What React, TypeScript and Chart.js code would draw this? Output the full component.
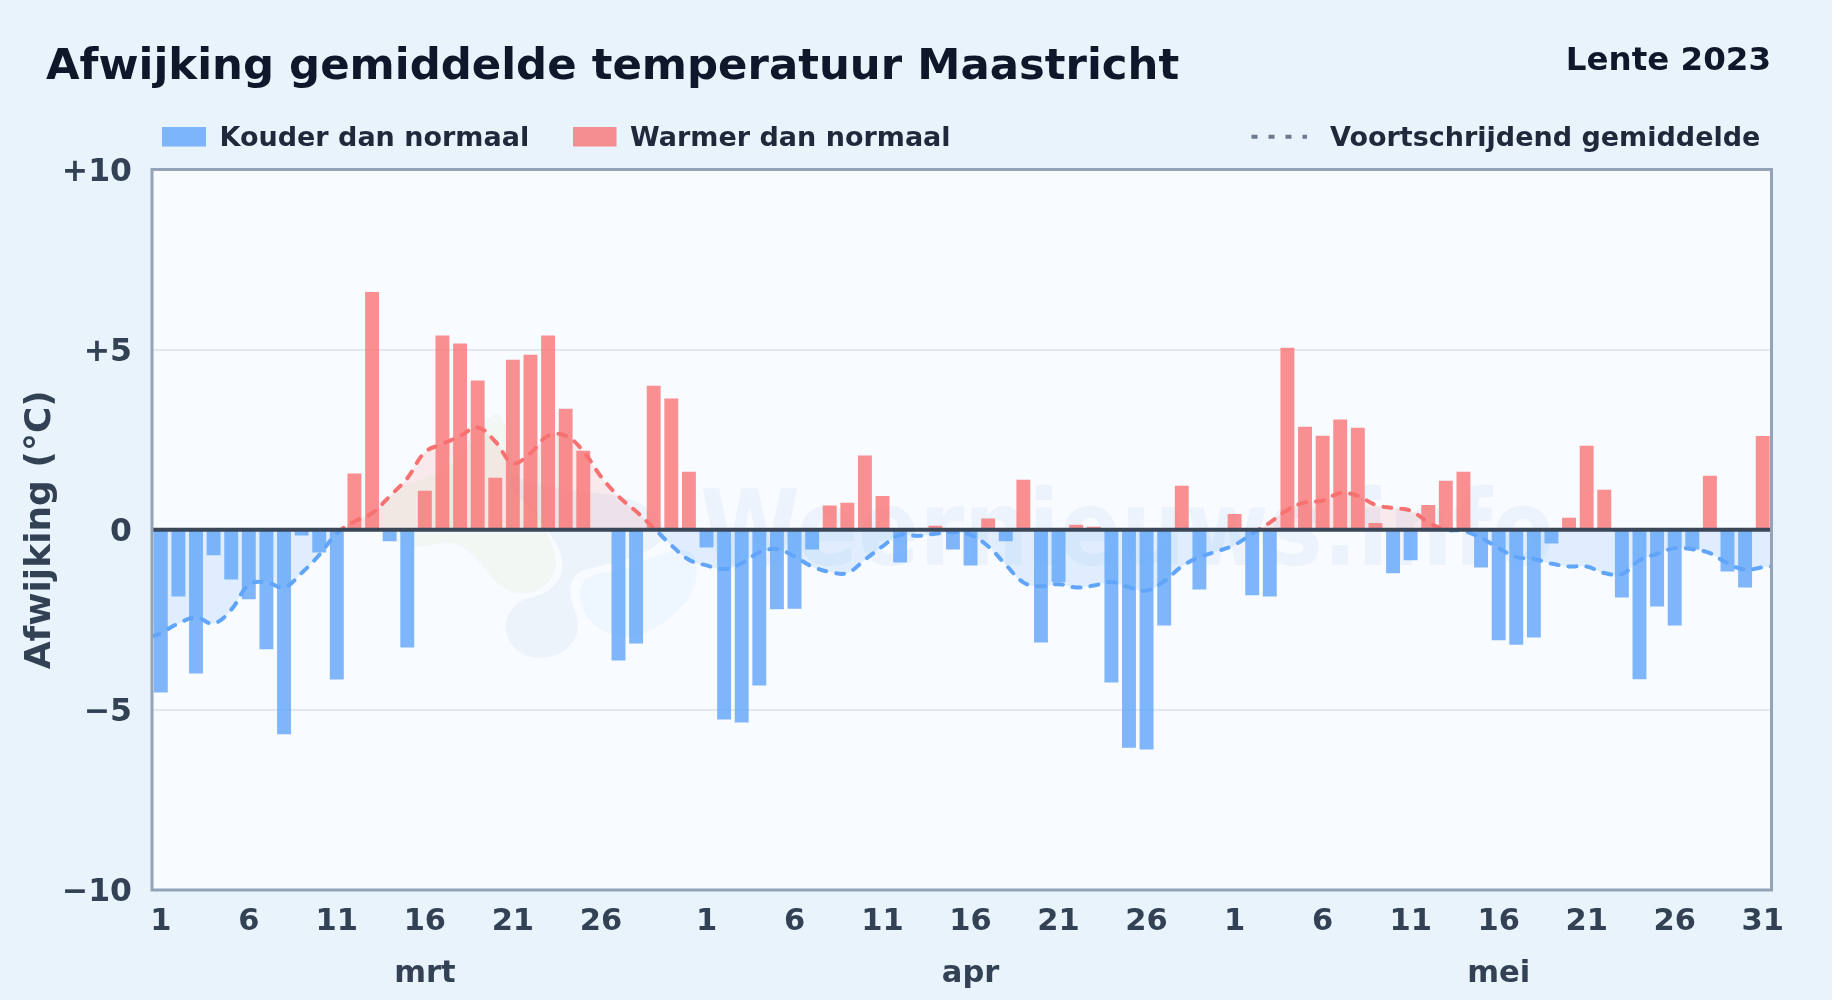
import React, { useEffect, useRef } from "react";
import { Chart, registerables } from "chart.js";

Chart.register(...registerables);

const TITLE = "Afwijking gemiddelde temperatuur Maastricht";
const SEASON = "Lente 2023";
const WATERMARK = "Weernieuws.info";
const Y_TITLE = "Afwijking (°C)";

const maart = [
  -4.52, -1.85, -3.99, -0.71, -1.38, -1.93, -3.32, -5.68, -0.16, -0.63, -4.16, 1.56, 6.6, -0.32, -3.27, 1.08,
  5.39, 5.17, 4.14, 1.44, 4.72, 4.86, 5.39, 3.36, 2.19, 0, -3.63, -3.16, 4.0, 3.64, 1.61,
];
const april = [
  -0.49, -5.27, -5.35, -4.32, -2.21, -2.19, -0.55, 0.67, 0.75, 2.06, 0.94, -0.91, 0, 0.11, -0.55, -0.99,
  0.31, -0.32, 1.39, -3.13, -1.46, 0.14, 0.08, -4.24, -6.05, -6.1, -2.66, 1.22, -1.66, 0,
];
const mei = [
  0.44, -1.82, -1.85, 5.05, 2.86, 2.61, 3.06, 2.83, 0.19, -1.21, -0.85, 0.69, 1.36, 1.61, -1.05, -3.07,
  -3.19, -2.99, -0.38, 0.33, 2.33, 1.11, -1.88, -4.15, -2.13, -2.66, -0.55, 1.5, -1.16, -1.6, 2.6,
];
const gemMaart = [
  -2.87, -2.6, -2.44, -2.6, -2.22, -1.53, -1.46, -1.6, -1.2, -0.7, -0.1, 0.23, 0.46, 0.93, 1.43, 2.15,
  2.38, 2.6, 2.84, 2.45, 1.85, 2.13, 2.61, 2.61, 2.18, 1.48, 0.93, 0.51, 0.05, -0.43, -0.83,
];
const gemApril = [
  -0.99, -1.09, -0.93, -0.63, -0.54, -0.74, -1.02, -1.17, -1.2, -0.83, -0.46, -0.14, -0.17, -0.11, -0.07, -0.14,
  -0.46, -0.97, -1.46, -1.57, -1.51, -1.6, -1.55, -1.45, -1.6, -1.69, -1.43, -1.02, -0.76, -0.6,
];
const gemMei = [
  -0.42, -0.11, 0.2, 0.55, 0.76, 0.81, 1.02, 0.94, 0.69, 0.6, 0.53, 0.21, 0, -0.03, -0.23, -0.51,
  -0.76, -0.81, -0.94, -1.02, -1.02, -1.2, -1.23, -0.85, -0.67, -0.51, -0.54, -0.65, -0.93, -1.11, -1.04,
];
const gemStart = -2.97;
const gemEind = -1.02;

const dayNumbers = [
  ...maart.map((_, i) => i + 1),
  ...april.map((_, i) => i + 1),
  ...mei.map((_, i) => i + 1),
];
const labeledDaysMaart = [1, 6, 11, 16, 21, 26];
const labeledDaysApril = [1, 6, 11, 16, 21, 26];
const labeledDaysMei = [1, 6, 11, 16, 21, 26, 31];
const monthNames = ["mrt", "apr", "mei"];
const monthLabelDay = 16;

const deviation = [...maart, ...april, ...mei];
const movingAverage = [...gemMaart, ...gemApril, ...gemMei];

const tickLabels = dayNumbers.map((d, i) => {
  const list = i < maart.length ? labeledDaysMaart : i < maart.length + april.length ? labeledDaysApril : labeledDaysMei;
  return list.includes(d) ? String(d) : "";
});
const monthTicks = dayNumbers.map((d, i) => {
  if (d !== monthLabelDay) return "";
  return i < maart.length ? monthNames[0] : i < maart.length + april.length ? monthNames[1] : monthNames[2];
});

const kouder = deviation.map((v) => (v < 0 ? v : null));
const warmer = deviation.map((v) => (v > 0 ? v : null));
const lijn = [
  { x: -0.5, y: gemStart },
  ...movingAverage.map((y, x) => ({ x, y })),
  { x: deviation.length - 0.5, y: gemEind },
];

const FONT = '"DejaVu Sans"';
const BLUE_BAR = "rgba(96,165,250,0.8)";
const RED_BAR = "rgba(248,113,113,0.78)";
const BLUE_LINE = "#60a5fa";
const RED_LINE = "#f87171";
const PAGE_BG = "#e9f3fc";
const PLOT_BG = "#f8fbff";

function blob(ctx: CanvasRenderingContext2D, pts: number[][], fill: string) {
  // smooth closed decorative outline for the faint background logo
  ctx.beginPath();
  const n = pts.length;
  const mid = (a: number[], b: number[]) => [(a[0] + b[0]) / 2, (a[1] + b[1]) / 2];
  const start = mid(pts[n - 1], pts[0]);
  ctx.moveTo(start[0], start[1]);
  for (let i = 0; i < n; i++) {
    const m = mid(pts[i], pts[(i + 1) % n]);
    ctx.quadraticCurveTo(pts[i][0], pts[i][1], m[0], m[1]);
  }
  ctx.closePath();
  ctx.fillStyle = fill;
  ctx.fill();
}

const backdropPlugin = {
  id: "backdrop",
  beforeDraw(chart: any) {
    const { ctx, chartArea: a } = chart;
    ctx.save();
    ctx.fillStyle = PAGE_BG;
    ctx.fillRect(0, 0, chart.width, chart.height);
    ctx.fillStyle = PLOT_BG;
    ctx.fillRect(a.left, a.top, a.right - a.left, a.bottom - a.top);
    ctx.restore();
  },
  beforeDatasetsDraw(chart: any) {
    const { ctx } = chart;
    ctx.save();
    const z = (x: number, y: number) => [360 + x / 3, 390 + y / 3];
    blob(ctx, [[395, 60], [440, 90], [440, 190], [560, 420], [600, 530], [540, 610], [430, 610], [340, 490], [270, 450], [160, 480], [40, 420], [80, 300], [280, 240]].map((p) => z(p[0], p[1])), "rgba(186,224,150,0.1)");
    blob(ctx, [[430, 700], [470, 630], [570, 610], [620, 530], [570, 420], [400, 240], [600, 300], [830, 320], [930, 420], [880, 480], [760, 520], [640, 545], [625, 620], [665, 710], [620, 790], [520, 810], [450, 770]].map((p) => z(p[0], p[1])), "rgba(96,150,210,0.08)");
    blob(ctx, [[650, 610], [680, 555], [790, 540], [900, 490], [1010, 470], [1010, 620], [830, 760], [690, 710]].map((p) => z(p[0], p[1])), "rgba(120,190,250,0.07)");
    ctx.translate(700, 565);
    ctx.scale(0.862, 1);
    ctx.font = `bold 105px ${FONT}`;
    ctx.textAlign = "left";
    ctx.textBaseline = "alphabetic";
    ctx.fillStyle = "rgba(59,120,200,0.06)";
    ctx.fillText(WATERMARK, 0, 0);
    ctx.restore();
  },
};

const overlayPlugin = {
  id: "overlay",
  afterDatasetsDraw(chart: any) {
    const { ctx, chartArea: a, scales } = chart;
    const y0 = scales.y.getPixelForValue(0);
    ctx.save();
    ctx.strokeStyle = "#3a4759";
    ctx.lineWidth = 4;
    ctx.beginPath();
    ctx.moveTo(a.left, y0);
    ctx.lineTo(a.right, y0);
    ctx.stroke();
    ctx.strokeStyle = "#94a3b8";
    ctx.lineWidth = 3;
    ctx.strokeRect(a.left, a.top, a.right - a.left, a.bottom - a.top);
    ctx.restore();
  },
  afterDraw(chart: any) {
    const { ctx, data } = chart;
    const [cold, warm, avg] = data.datasets;
    ctx.save();
    ctx.textBaseline = "alphabetic";
    ctx.textAlign = "left";
    ctx.fillStyle = "#0f172a";
    ctx.font = `bold 43.4px ${FONT}`;
    ctx.fillText(TITLE, 46, 79);
    ctx.font = `bold 32.5px ${FONT}`;
    ctx.textAlign = "right";
    ctx.fillText(SEASON, 1771, 70);
    ctx.textAlign = "left";
    ctx.font = `bold 27px ${FONT}`;
    ctx.fillStyle = cold.backgroundColor;
    ctx.fillRect(162, 127, 44, 19.5);
    ctx.fillStyle = warm.backgroundColor;
    ctx.fillRect(573, 127, 43.5, 19.5);
    ctx.fillStyle = "#1e293b";
    ctx.fillText(cold.label, 219.5, 146);
    ctx.fillText(warm.label, 630, 146);
    ctx.fillText(avg.label, 1330, 146);
    ctx.strokeStyle = "#6b7a90";
    ctx.lineWidth = 4;
    ctx.setLineDash([6, 11]);
    ctx.beginPath();
    ctx.moveTo(1251.5, 136.7);
    ctx.lineTo(1307, 136.7);
    ctx.stroke();
    ctx.restore();
  },
};

export default function App() {
  const ref = useRef<HTMLCanvasElement>(null);
  useEffect(() => {
    if (!ref.current) return;
    const chart = new Chart(ref.current, {
      type: "bar",
      data: {
        labels: tickLabels,
        datasets: [
          {
            label: "Kouder dan normaal",
            data: kouder,
            backgroundColor: BLUE_BAR,
            borderWidth: 0,
            grouped: false,
            order: 2,
            barPercentage: 0.79,
            categoryPercentage: 1,
          },
          {
            label: "Warmer dan normaal",
            data: warmer,
            backgroundColor: RED_BAR,
            borderWidth: 0,
            grouped: false,
            order: 2,
            barPercentage: 0.79,
            categoryPercentage: 1,
          },
          {
            type: "line",
            label: "Voortschrijdend gemiddelde",
            data: lijn,
            xAxisID: "xLine",
            order: 1,
            parsing: false,
            pointRadius: 0,
            borderWidth: 4,
            borderDash: [8, 10],
            borderCapStyle: "round",
            tension: 0.4,
            fill: { target: "origin", above: "rgba(248,113,113,0.13)", below: "rgba(96,165,250,0.16)" },
            borderColor: (c: any) => {
              const { chart: ch } = c;
              const a = ch.chartArea;
              if (!a) return BLUE_LINE;
              const g = ch.ctx.createLinearGradient(0, a.top, 0, a.bottom);
              const s = (ch.scales.y.getPixelForValue(0) - a.top) / (a.bottom - a.top);
              g.addColorStop(0, RED_LINE);
              g.addColorStop(s, RED_LINE);
              g.addColorStop(s, BLUE_LINE);
              g.addColorStop(1, BLUE_LINE);
              return g;
            },
          } as any,
        ],
      },
      options: {
        responsive: false,
        animation: false,
        devicePixelRatio: 1,
        layout: { padding: { left: 0, right: 60.5, top: 169.5, bottom: 0 } },
        plugins: { legend: { display: false }, title: { display: false }, tooltip: { enabled: false } },
        scales: {
          x: {
            type: "category",
            position: "bottom",
            grid: { display: false },
            border: { display: false },
            afterFit: (s: any) => { s.height = 58; },
            ticks: {
              autoSkip: false,
              maxRotation: 0,
              minRotation: 0,
              padding: 6,
              color: "#334155",
              font: { family: FONT, size: 30.5, weight: "bold" },
            },
          },
          xMonth: {
            type: "category",
            position: "bottom",
            labels: monthTicks,
            grid: { display: false },
            border: { display: false },
            afterFit: (s: any) => { s.height = 52; },
            ticks: {
              autoSkip: false,
              maxRotation: 0,
              minRotation: 0,
              padding: 0,
              color: "#334155",
              font: { family: FONT, size: 30.5, weight: "bold" },
            },
          },
          xLine: {
            type: "linear",
            display: false,
            offset: false,
            min: -0.5,
            max: deviation.length - 0.5,
          },
          y: {
            type: "linear",
            min: -10,
            max: 10,
            afterFit: (s: any) => { s.width = 152; },
            grid: { color: (c: any) => (c.tick.value === 0 ? "transparent" : "#e2e8f0"), lineWidth: 2, drawTicks: false },
            border: { display: false },
            title: {
              display: true,
              text: Y_TITLE,
              color: "#334155",
              padding: { top: 19, bottom: 0 },
              font: { family: FONT, size: 36, weight: "bold" },
            },
            ticks: {
              stepSize: 5,
              padding: 20,
              labelOffset: 3,
              color: "#334155",
              font: { family: FONT, size: 31.5, weight: "bold" },
              callback: (v: any) => (v > 0 ? `+${v}` : v < 0 ? `\u2212${Math.abs(v)}` : "0"),
            },
          },
        },
      } as any,
      plugins: [backdropPlugin, overlayPlugin],
    } as any);
    return () => chart.destroy();
  }, []);
  return (
    <div style={{ position: "absolute", left: 0, top: 0, width: 1832, height: 1000, overflow: "hidden" }}>
      <canvas ref={ref} width={1832} height={1000} style={{ display: "block" }} />
    </div>
  );
}
